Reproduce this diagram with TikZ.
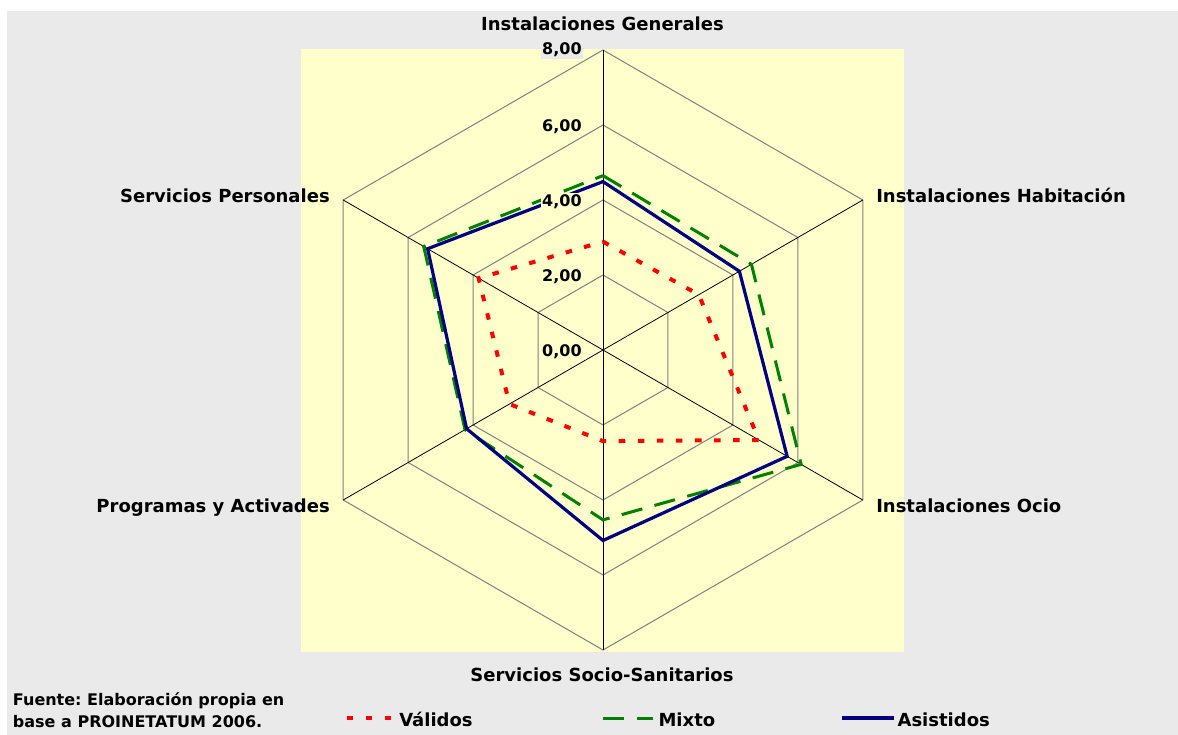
\documentclass[tikz,border=0pt]{standalone}
\usepackage{fontspec}
\setmainfont{DejaVu Sans}
\frenchspacing
\definecolor{bgray}{HTML}{EAEAEA}
\definecolor{pyellow}{HTML}{FFFFCC}
\definecolor{gridgray}{HTML}{808080}
\definecolor{valred}{HTML}{FF0000}
\definecolor{mixgreen}{HTML}{008000}
\definecolor{asinavy}{HTML}{000080}
\begin{document}
\begin{tikzpicture}[x=0.75pt,y=-0.75pt,
  axislabel/.style={font=\fontsize{13.5}{16}\selectfont\bfseries, inner sep=0pt},
  numlabel/.style={font=\fontsize{12}{14}\selectfont\bfseries, inner sep=1pt, fill=pyellow, anchor=base east},
  notelabel/.style={font=\fontsize{12}{14}\selectfont\bfseries, inner sep=0pt, anchor=base west},
  gridline/.style={draw=gridgray, line width=0.75pt},
  spoke/.style={draw=black, line width=0.6pt},
  valline/.style={draw=valred, line width=3pt, dash pattern=on 4.9pt off 9.4pt},
  mixline/.style={draw=mixgreen, line width=2.25pt, dash pattern=on 16pt off 9.5pt},
  asiline/.style={draw=asinavy, line width=2.4pt, line join=miter}]
\useasboundingbox (0,0) rectangle (1178,735);
\fill[white] (0,0) rectangle (1178,735);
\fill[bgray] (7,11) rectangle (1178,735);
\fill[pyellow] (301,49) rectangle (904,652);

\begin{scope}[shift={(603,350)}, x=28.125pt, y=28.125pt]
  \coordinate (O) at (0,0);
  \foreach \r in {2,4,6,8}
    \draw[gridline] (90:\r) -- (30:\r) -- (-30:\r) -- (-90:\r) -- (210:\r) -- (150:\r) -- cycle;
  \foreach \a/\n in {90/gen,30/hab,-30/ocio,-90/soc,210/prog,150/pers}
    \coordinate (ax\n) at (\a:8);
  \foreach \n in {gen,hab,ocio,soc,prog,pers}
    \draw[spoke] (O) -- (ax\n);
  % Validos
  \coordinate (v1) at (90:2.89);
  \coordinate (v2) at (30:2.95);
  \coordinate (v3) at (-30:4.8);
  \coordinate (v4) at (-90:2.43);
  \coordinate (v5) at (210:2.88);
  \coordinate (v6) at (150:3.83);
  % Mixto
  \coordinate (m1) at (90:4.65);
  \coordinate (m2) at (30:4.57);
  \coordinate (m3) at (-30:6.1);
  \coordinate (m4) at (-90:4.53);
  \coordinate (m5) at (210:4.25);
  \coordinate (m6) at (150:5.52);
  % Asistidos
  \coordinate (s1) at (90:4.49);
  \coordinate (s2) at (30:4.2);
  \coordinate (s3) at (-30:5.67);
  \coordinate (s4) at (-90:5.08);
  \coordinate (s5) at (210:4.2);
  \coordinate (s6) at (150:5.4);
  \draw[valline] (v1) -- (v2) -- (v3) -- (v4) -- (v5) -- (v6) -- cycle;
  \draw[mixline] (m1) -- (m2) -- (m3) -- (m4) -- (m5) -- (m6) -- cycle;
  \draw[asiline] (s1) -- (s2) -- (s3) -- (s4) -- (s5) -- (s6) -- cycle;
\end{scope}

% scale labels
\node[numlabel, fill=bgray] (n8) at (583.3,55) {8,00};
\node[numlabel] (n6) at (583.3,131.7) {6,00};
\node[numlabel] (n4) at (583.3,206.7) {4,00};
\node[numlabel] (n2) at (583.3,281.7) {2,00};
\node[numlabel] (n0) at (583.3,356.7) {0,00};

% axis labels
\node[axislabel, anchor=base] (lgen) at (602.5,31) {Instalaciones Generales};
\node[axislabel, anchor=base west] (lhab) at (876,202.3) {Instalaciones Habitación};
\node[axislabel, anchor=base west] (locio) at (876,512.3) {Instalaciones Ocio};
\node[axislabel, anchor=base] (lsoc) at (602,681.7) {Servicios Socio-Sanitarios};
\node[axislabel, anchor=base east] (lprog) at (330,512.3) {Programas y Activades};
\node[axislabel, anchor=base east] (lpers) at (330,202.3) {Servicios Personales};

% source note
\node[notelabel] (src1) at (12.7,705) {Fuente: Elaboración propia en};
\node[notelabel] (src2) at (12.7,727.7) {base a PROINETATUM 2006.};

% legend
\coordinate (lva) at (346.7,718);
\coordinate (lvb) at (391,718);
\coordinate (lma) at (603,718);
\coordinate (lmb) at (653,718);
\coordinate (lsa) at (842,718);
\coordinate (lsb) at (894,718);
\draw[valline] (lva) -- (lvb);
\draw[mixline] (lma) -- (lmb);
\draw[asiline] (lsa) -- (lsb);
\node[axislabel, anchor=base west] (tval) at (399,726) {Válidos};
\node[axislabel, anchor=base west] (tmix) at (658.3,726) {Mixto};
\node[axislabel, anchor=base west] (tasi) at (897.3,726) {Asistidos};
\end{tikzpicture}
\end{document}
